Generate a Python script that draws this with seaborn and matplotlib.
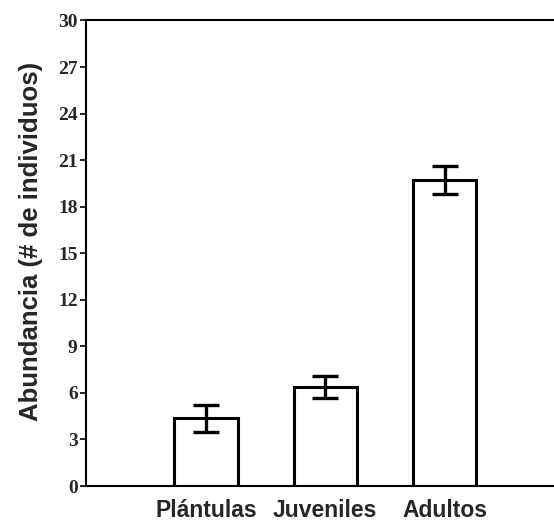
import matplotlib
matplotlib.use("Agg")
import matplotlib.pyplot as plt
import seaborn as sns
import pandas as pd

categories = ["Plántulas", "Juveniles", "Adultos"]
means = [4.38, 6.38, 19.72]
errors = [0.87, 0.71, 0.9]
yticks = [0, 3, 6, 9, 12, 15, 18, 21, 24, 27, 30]

sns.set_style("white")
df = pd.DataFrame({"cat": categories, "val": means})

fig = plt.figure(figsize=(5.54, 5.24), dpi=100)
ax = fig.add_axes([0.1552, 0.0725, 0.8448, 0.8884])
sns.barplot(data=df, x="cat", y="val", ax=ax, color="white", edgecolor="black",
            linewidth=2.2, width=0.53, errorbar=None)
ax.errorbar(x=list(range(len(categories))), y=means, yerr=errors, fmt="none",
            ecolor="black", elinewidth=2.4, capsize=9.2, capthick=2.4)

ax.set_xlim(-1.006, 2.918)
ax.set_ylim(0, 30)
ax.set_yticks(yticks)
ax.set_yticklabels([str(t) for t in yticks], fontfamily="Liberation Serif",
                   fontweight="bold", fontsize=14)
ax.set_xticks(range(len(categories)))
ax.set_xticklabels(categories, fontfamily="Liberation Sans", fontweight="bold", fontsize=16.5)
ax.tick_params(axis="y", direction="out", length=4, width=1.2, color="black", pad=2, left=True)
ax.tick_params(axis="x", length=0, pad=9)
ax.set_xlabel("")
ax.set_ylabel("Abundancia (# de individuos)", fontfamily="Liberation Sans",
              fontweight="bold", fontsize=18.5)
ax.yaxis.set_label_coords(-0.092, 0.526)
for s in ["left", "bottom", "top"]:
    ax.spines[s].set_visible(True)
    ax.spines[s].set_color("black")
    ax.spines[s].set_linewidth(1.5)
ax.spines["right"].set_visible(False)

fig.savefig("out.png", dpi=100)
